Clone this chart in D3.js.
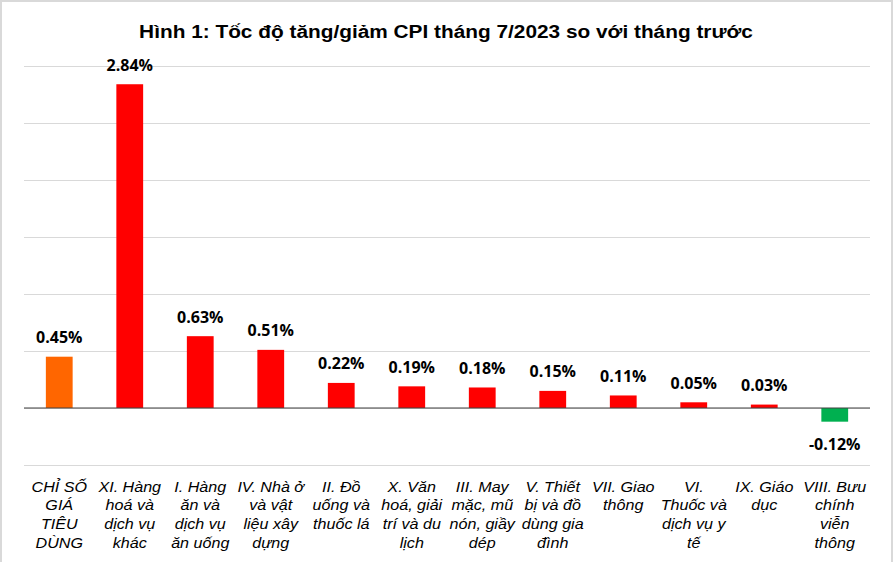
<!DOCTYPE html>
<html>
<head>
<meta charset="utf-8">
<script src="https://cdn.jsdelivr.net/npm/d3@7/dist/d3.min.js"></script>
<style>
  body { margin: 0; background: #fff; }
  svg { display: block; }
</style>
</head>
<body>
<script>
var width = 893;
var height = 562;

// categories (line breaks as shown in the chart)
var categories = [
    "CHỈ SỐ\nGIÁ\nTIÊU\nDÙNG",
    "XI. Hàng\nhoá và\ndịch vụ\nkhác",
    "I. Hàng\năn và\ndịch vụ\năn uống",
    "IV. Nhà ở\nvà vật\nliệu xây\ndựng",
    "II. Đồ\nuống và\nthuốc lá",
    "X. Văn\nhoá, giải\ntrí và du\nlịch",
    "III. May\nmặc, mũ\nnón, giầy\ndép",
    "V. Thiết\nbị và đồ\ndùng gia\nđình",
    "VII. Giao\nthông",
    "VI.\nThuốc và\ndịch vụ y\ntế",
    "IX. Giáo\ndục",
    "VIII. Bưu\nchính\nviễn\nthông"
];
var values = [0.45, 2.84, 0.63, 0.51, 0.22, 0.19, 0.18, 0.15, 0.11, 0.05, 0.03, -0.12];
var gridTicks = [-0.5, 0, 0.5, 1, 1.5, 2, 2.5, 3];
var title = "Hình 1: Tốc độ tăng/giảm CPI tháng 7/2023 so với tháng trước";

var plotLeft = 24, plotRight = 870, plotTop = 66, plotBottom = 465;
var stretch = 1.12; // text in the picture is a little wider than tall

var svg = d3.select("body").append("svg").attr("width", width).attr("height", height);

// frame
svg.append("rect").attr("x", 0).attr("y", 0).attr("width", width).attr("height", height)
    .attr("fill", "#d9d9d9");
svg.append("rect").attr("x", 2).attr("y", 2).attr("width", 889).attr("height", height - 2)
    .attr("fill", "#fff");

var x = d3.scaleBand()
    .domain(d3.range(categories.length))
    .range([plotLeft, plotRight])
    .paddingInner(0.62)
    .paddingOuter(0.31);

var y = d3.scaleLinear().domain([-0.5, 3]).range([plotBottom, plotTop]);

// gridlines
svg.append("g")
    .attr("transform", "translate(" + plotLeft + ",0)")
    .call(d3.axisLeft(y).tickValues(gridTicks).tickSize(-(plotRight - plotLeft)).tickFormat(""))
    .call(function (g) {
        g.select(".domain").remove();
        g.selectAll(".tick line").attr("stroke", "#d9d9d9").attr("stroke-width", 1);
    });

svg.append("text")
    .attr("transform", "translate(446,38) scale(" + stretch + ",1)")
    .attr("text-anchor", "middle")
    .style("font-family", "'Liberation Sans', Arial, sans-serif")
    .style("font-weight", "bold")
    .style("font-size", "18.6px")
    .text(title);

function barColor(d, i) {
    if (i === 0) return "#ff6600";
    return d < 0 ? "#00b050" : "#ff0000";
}

svg.selectAll("rect.bar")
    .data(values)
    .enter()
    .append("rect")
    .attr("class", "bar")
    .attr("x", function (d, i) { return x(i); })
    .attr("width", x.bandwidth())
    .attr("y", function (d) { return y(Math.max(0, d)); })
    .attr("height", function (d) { return Math.abs(y(d) - y(0)); })
    .attr("fill", barColor);

// zero line
svg.append("line")
    .attr("x1", plotLeft).attr("x2", plotRight)
    .attr("y1", y(0)).attr("y2", y(0))
    .attr("stroke", "#404040").attr("stroke-width", 1.2);

// value labels
svg.selectAll("text.val")
    .data(values)
    .enter()
    .append("text")
    .attr("class", "val")
    .attr("x", function (d, i) { return x(i) + x.bandwidth() / 2; })
    .attr("y", function (d) { return d >= 0 ? y(d) - 13.5 : y(d) + 28.5; })
    .attr("text-anchor", "middle")
    .style("font-family", "'Open Sans', 'Liberation Sans', sans-serif")
    .style("font-weight", "bold")
    .style("font-size", "16px")
    .text(function (d) { return d.toFixed(2) + "%"; });

// category labels
var cat = svg.selectAll("text.cat")
    .data(categories)
    .enter()
    .append("text")
    .attr("class", "cat")
    .attr("transform", function (d, i) {
        return "translate(" + (x(i) + x.bandwidth() / 2) + ",491.5) scale(" + stretch + ",1)";
    })
    .attr("text-anchor", "middle")
    .style("font-family", "'Liberation Sans', Arial, sans-serif")
    .style("font-style", "italic")
    .style("font-size", "14.4px")
    .style("fill", "#000");

cat.selectAll("tspan")
    .data(function (d) { return d.split("\n"); })
    .enter()
    .append("tspan")
    .attr("x", 0)
    .attr("dy", function (d, i) { return i === 0 ? 0 : 19; })
    .text(function (d) { return d; });
</script>
</body>
</html>
